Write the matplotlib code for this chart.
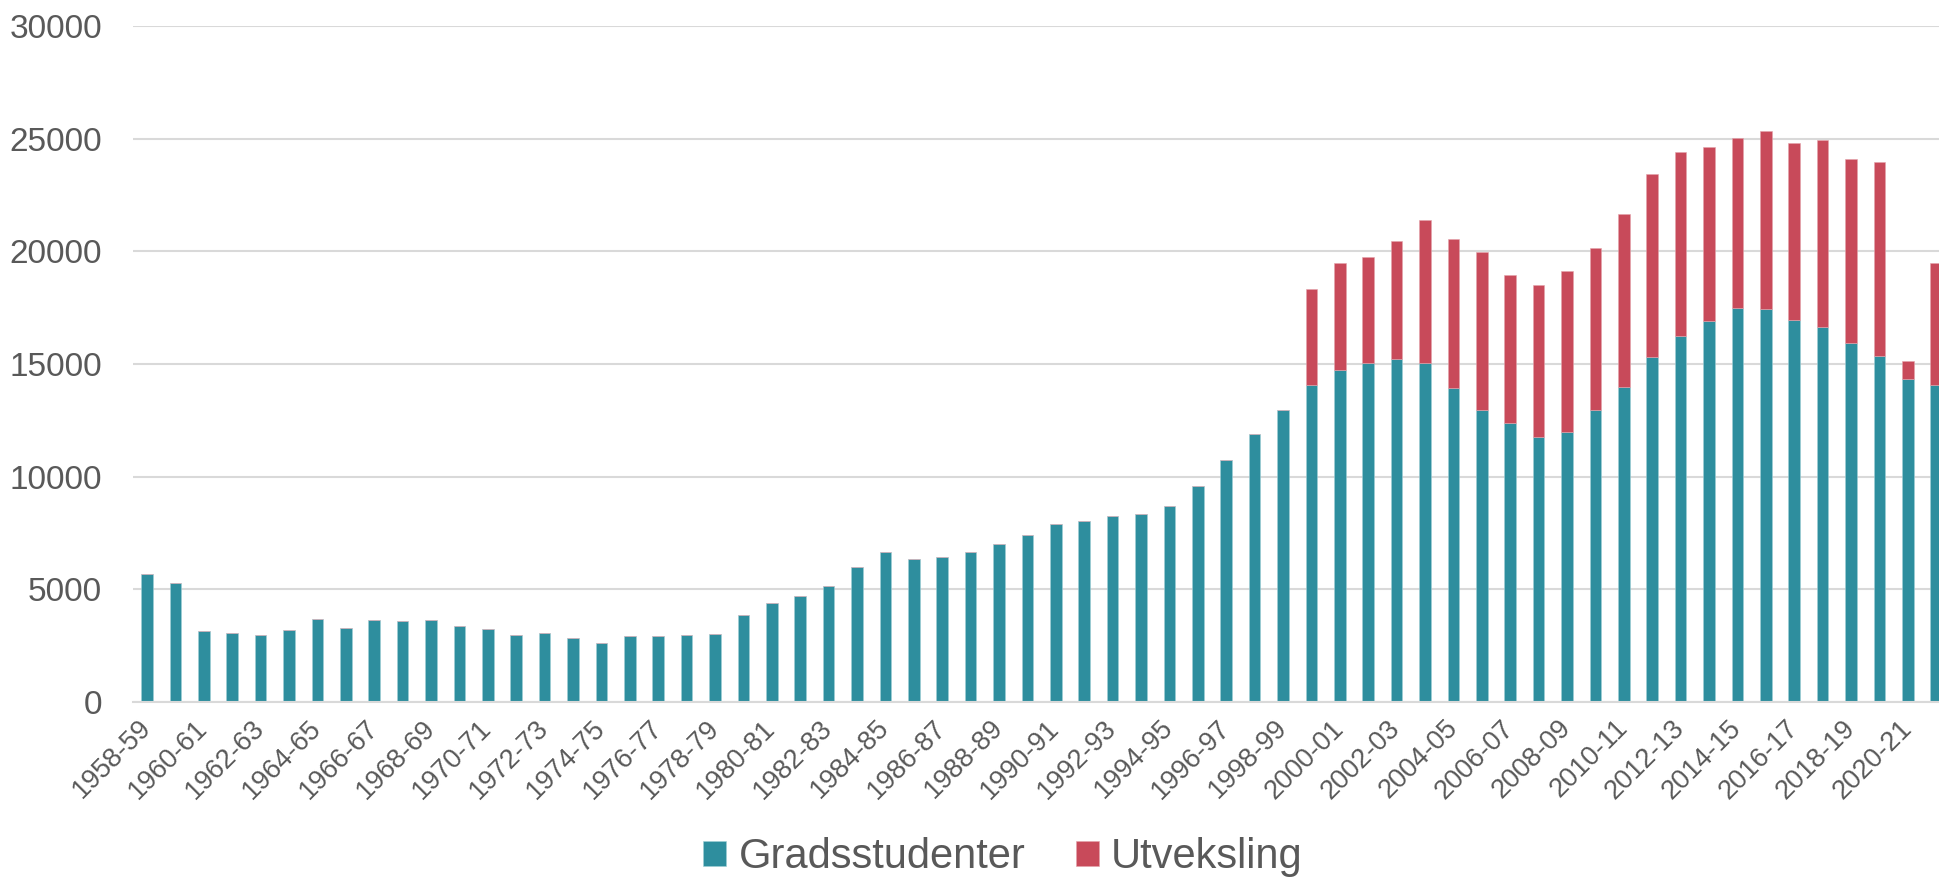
import matplotlib
matplotlib.use("Agg")
import matplotlib.pyplot as plt
import numpy as np

first_year = 1958
last_year = 2021
seasons = [f"{y}-{(y + 1) % 100:02d}" for y in range(first_year, last_year + 1)]

gradsstudenter = [
    5700, 5290, 3150, 3050, 2960, 3180, 3690, 3290, 3660, 3600,
    3630, 3390, 3260, 2990, 3040, 2830, 2640, 2930, 2950, 2960,
    3010, 3850, 4410, 4710, 5170, 5970, 6640, 6330, 6420, 6650,
    7010, 7420, 7880, 8020, 8270, 8340, 8700, 9590, 10760, 11900,
    12980, 14090, 14730, 15030, 15210, 15060, 13920, 12980, 12360, 11780,
    11990, 12950, 14000, 15310, 16260, 16910, 17470, 17430, 16940, 16630,
    15930, 15350, 14320, 14090,
]
utveksling = [0] * 41 + [
    4240, 4740, 4710, 5230, 6330, 6620, 7010, 6570, 6730, 7130,
    7210, 7650, 8140, 8140, 7740, 7550, 7930, 7870, 8330, 8150,
    8630, 810, 5380,
]

TEAL = "#2E8E9E"
RED = "#C84A5A"
TEXT = "#595959"
GRID = "#D9D9D9"

plt.rcParams["font.family"] = ["Liberation Sans", "DejaVu Sans"]

fig = plt.figure(figsize=(19.39, 8.82), dpi=100)
W, H = 1939, 882
# axes runs slightly past the right edge, like the original export
left, right, top, bottom = 132.8, 1950.4, 26, 702
ax = fig.add_axes([left / W, 1 - bottom / H, (right - left) / W, (bottom - top) / H])

x = np.arange(len(seasons))
ax.bar(x, gradsstudenter, width=0.41, color=TEAL, edgecolor="#9FCFD6",
       linewidth=0.4, label="Gradsstudenter", zorder=3)
ax.bar(x, utveksling, width=0.41, bottom=gradsstudenter, color=RED,
       edgecolor="#E3A3AB", linewidth=0.4, label="Utveksling", zorder=3)

ax.set_xlim(-0.5, len(seasons) - 0.5)
ax.set_ylim(0, 30000)
ax.set_yticks(range(0, 30001, 5000))
ax.yaxis.grid(True, color=GRID, linewidth=1.5, zorder=0)
ax.set_axisbelow(True)

for s in ["top", "right", "left"]:
    ax.spines[s].set_visible(False)
ax.spines["bottom"].set_color(GRID)
ax.spines["bottom"].set_linewidth(1.5)
ax.spines["bottom"].set_zorder(4)

ax.set_xticks(x[::2])
ax.set_xticklabels(seasons[::2], rotation=45, ha="right", va="center",
                   rotation_mode="anchor", fontsize=19.5, color=TEXT)
ax.tick_params(axis="x", length=0, pad=16)
ax.tick_params(axis="y", length=0, pad=22, labelsize=24, labelcolor=TEXT)

fig.legend(loc="center", bbox_to_anchor=(1003 / W, 1 - 857 / H), ncol=2,
           frameon=False, fontsize=30, labelcolor=TEXT,
           handlelength=0.55, handleheight=0.55, handletextpad=0.3,
           columnspacing=1.2)

fig.savefig("out.png", dpi=100)
